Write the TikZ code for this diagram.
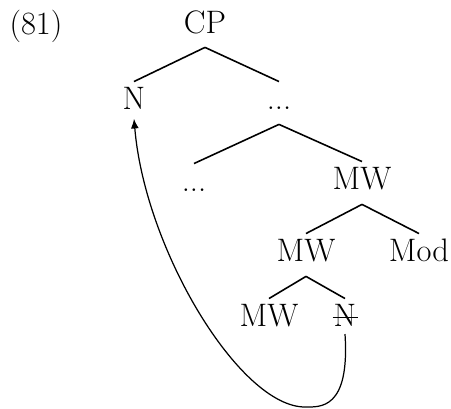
\documentclass[tikz,border=0pt]{standalone}
\usepackage{fontspec}
\usepackage{tikz}
\usetikzlibrary{arrows.meta,calc,positioning}
\begin{document}
\begin{tikzpicture}[x=0.02cm,y=-0.02cm,
    lbl/.style={anchor=base,font=\fontsize{18.5}{22}\selectfont,text height=12.5pt,text depth=4.5pt,inner ysep=3.5pt,inner xsep=0pt},
    branch/.style={line width=0.9pt}]
  \useasboundingbox (0,0) rectangle (451,409);
  %Labels
  \node[lbl] (ex) at (36,34) {(81)};
  \node[lbl] (cp) at (205,33) {CP};
  \node[lbl] (n) at (134,110) {N};
  \node[lbl] (dotsa) at (279,110) {...};
  \node[lbl] (dotsb) at (194,192) {...};
  \node[lbl] (mwa) at (362,190) {MW};
  \node[lbl] (mwb) at (306,262) {MW};
  \node[lbl] (mod) at (419,262) {Mod};
  \node[lbl] (mwc) at (269,327) {MW};
  \node[lbl] (ntr) at (345,327) {N};
  %Branches
  \draw[branch] (cp.south) -- (n.north);
  \draw[branch] (cp.south) -- (dotsa.north);
  \draw[branch] (dotsa.south) -- (dotsb.north);
  \draw[branch] (dotsa.south) -- (mwa.north);
  \draw[branch] (mwa.south) -- (mwb.north);
  \draw[branch] (mwa.south) -- (mod.north);
  \draw[branch] (mwb.south) -- (mwc.north);
  \draw[branch] (mwb.south) -- (ntr.north);
  %Strike
  \draw[branch] ([yshift=5.5pt,xshift=-0.5pt]ntr.base west) -- ([yshift=5.5pt,xshift=1pt]ntr.base east);
  %Movement
  \draw[line width=0.7pt,-{Latex[length=5.5pt,width=4.5pt]}] ([yshift=-4pt]ntr.base) .. controls (350,410) and (320,407) .. (305,407)
      .. controls (240,407) and (145,250) .. ([yshift=-5pt]n.base);
\end{tikzpicture}
\end{document}
